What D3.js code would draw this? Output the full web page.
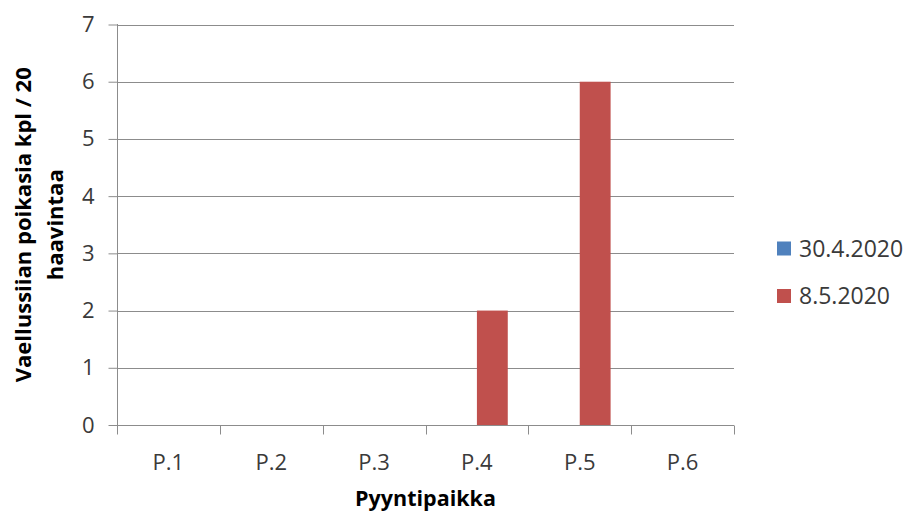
<!DOCTYPE html>
<html>
<head>
<meta charset="utf-8">
<script src="https://cdn.jsdelivr.net/npm/d3@7/dist/d3.min.js"></script>
<style>
  html, body { margin: 0; padding: 0; background: #fff; }
  svg { display: block; }
  text { font-family: "Open Sans", sans-serif; fill: #3a3a3a; }
</style>
</head>
<body>
<svg id="chart" width="911" height="513"></svg>
<script>
const categories = ["P.1", "P.2", "P.3", "P.4", "P.5", "P.6"];
const seriesNames = ["30.4.2020", "8.5.2020"];
const series1 = [0, 0, 0, 0, 0, 0];
const series2 = [0, 0, 0, 2, 6, 0];
const yTicks = [0, 1, 2, 3, 4, 5, 6, 7];
const colors = ["#4F81BD", "#C0504D"];
const yTitleLines = ["Vaellussiian poikasia kpl / 20", "haavintaa"];
const xTitle = "Pyyntipaikka";

const svg = d3.select("#chart");
const pLeft = 117, pRight = 734, pTop = 24.5, pBottom = 425;
const grid = "#8c8c8c";

const x0 = d3.scaleBand().domain(categories).range([pLeft, pRight]).padding(0);
const bw = x0.bandwidth();
const x1 = d3.scaleBand().domain(seriesNames).range([bw * 0.2, bw * 0.8]).padding(0);
const y = d3.scaleLinear().domain([0, 7]).range([pBottom, pTop]);

// gridlines
svg.append("g").selectAll("line").data(yTicks.filter(d => d > 0)).join("line")
  .attr("x1", pLeft).attr("x2", pRight)
  .attr("y1", d => Math.round(y(d)) + 0.5).attr("y2", d => Math.round(y(d)) + 0.5)
  .attr("stroke", grid).attr("stroke-width", 1);

// bars
const data = [series1, series2];
const g = svg.append("g");
seriesNames.forEach((s, si) => {
  g.selectAll(null).data(categories.map((c, i) => ({c, v: data[si][i]}))).join("rect")
    .attr("x", d => x0(d.c) + x1(s))
    .attr("width", x1.bandwidth())
    .attr("y", d => y(d.v))
    .attr("height", d => y(0) - y(d.v))
    .attr("fill", colors[si]);
});

// y axis
const yAxis = d3.axisLeft(y).tickValues(yTicks).tickSize(9).tickPadding(14).tickFormat(d3.format("d"));
const ya = svg.append("g").attr("transform", `translate(${pLeft + 0.5},0)`).call(yAxis);
ya.select(".domain").attr("stroke", grid).attr("d", `M0,${pTop - 0.5}V${pBottom + 9}`);
ya.selectAll(".tick line").attr("stroke", grid);
ya.selectAll(".tick text").style("font-family", "'Open Sans', sans-serif").style("font-size", "22px").attr("fill", "#3a3a3a");

// x axis
const xa = svg.append("g").attr("transform", `translate(0,${Math.round(y(0)) + 0.5})`);
xa.append("line").attr("x1", pLeft).attr("x2", pRight).attr("stroke", grid);
const tickXs = categories.map(c => x0(c)).concat([pRight]);
xa.selectAll(".xt").data(tickXs).join("line")
  .attr("x1", d => Math.round(d) + 0.5).attr("x2", d => Math.round(d) + 0.5)
  .attr("y1", 0).attr("y2", 9).attr("stroke", grid);
xa.selectAll(".xl").data(categories).join("text")
  .attr("x", d => x0(d) + bw / 2).attr("y", 44)
  .attr("text-anchor", "middle")
  .style("font-size", "22px")
  .text(d => d);

// x title
svg.append("text").attr("x", (pLeft + pRight) / 2).attr("y", 506)
  .attr("text-anchor", "middle").style("font-size", "21.5px").style("font-weight", "bold")
  .style("fill", "#000")
  .text(xTitle);

// y title
const yt = svg.append("text").attr("transform", `translate(0,${(pTop + pBottom) / 2}) rotate(-90)`)
  .attr("text-anchor", "middle").style("font-size", "22px").style("font-weight", "bold").style("fill", "#000");
yTitleLines.forEach((t, i) => {
  yt.append("tspan").attr("x", 0).attr("y", 31 + i * 32).text(t);
});

// legend
const leg = svg.append("g");
const legY = [248.5, 296];
seriesNames.forEach((s, i) => {
  leg.append("rect").attr("x", 777).attr("y", legY[i] - 7).attr("width", 14).attr("height", 14).attr("fill", colors[i]);
  leg.append("text").attr("x", 799).attr("y", legY[i] + 8).style("font-size", "23px").text(s);
});
</script>
</body>
</html>
